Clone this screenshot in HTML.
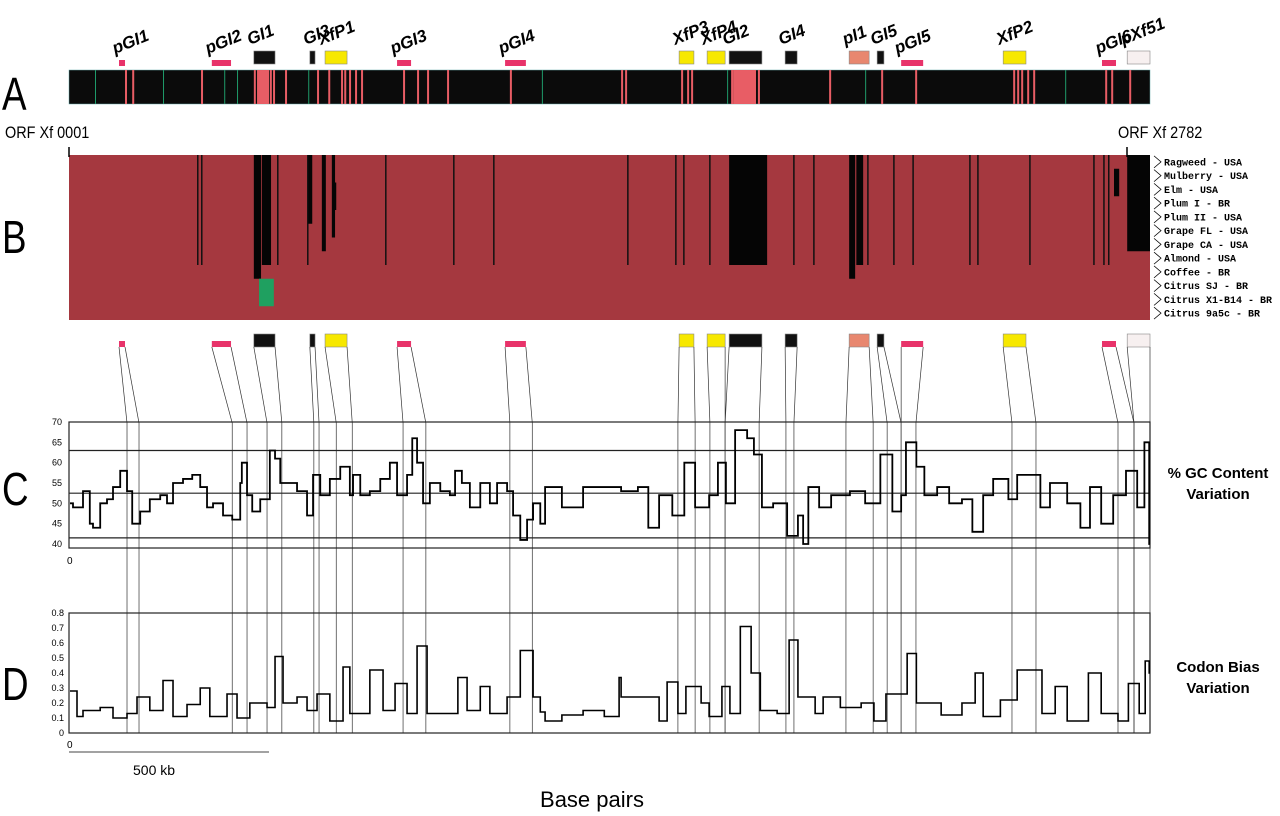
<!DOCTYPE html>
<html><head><meta charset="utf-8"><style>
html,body{margin:0;padding:0;background:#fff;}
svg{display:block;font-family:"Liberation Sans",sans-serif;}
</style></head><body>
<svg id="fig" width="1280" height="816" viewBox="0 0 1280 816" xmlns="http://www.w3.org/2000/svg">
<g id="gA"></g>
<g id="gB"></g>
<g id="gConn"></g>
<g id="gC"></g>
<g id="gD"></g>
<text x="2" y="110" font-size="46" font-weight="300" transform="scale(0.8,1)" style="transform-origin:2px 110px">A</text>
<text x="2" y="253" font-size="46" transform="scale(0.8,1)" style="transform-origin:2px 253px">B</text>
<text x="2" y="505" font-size="46" transform="scale(0.8,1)" style="transform-origin:2px 505px">C</text>
<text x="2" y="700" font-size="46" transform="scale(0.8,1)" style="transform-origin:2px 700px">D</text>
<text x="5" y="138" font-size="17" transform="scale(0.85,1)" style="transform-origin:5px 138px">ORF Xf 0001</text>
<line x1="69" y1="147" x2="69" y2="157" stroke="#000" stroke-width="1.5"/>
<text x="1118" y="138" font-size="17" transform="scale(0.85,1)" style="transform-origin:1118px 138px">ORF Xf 2782</text>
<line x1="1127" y1="147" x2="1127" y2="157" stroke="#000" stroke-width="1.5"/>
<text x="1218" y="478" font-size="15" font-weight="bold" text-anchor="middle">% GC Content</text>
<text x="1218" y="499" font-size="15" font-weight="bold" text-anchor="middle">Variation</text>
<text x="1218" y="672" font-size="15" font-weight="bold" text-anchor="middle">Codon Bias</text>
<text x="1218" y="693" font-size="15" font-weight="bold" text-anchor="middle">Variation</text>
<line x1="69" y1="752" x2="269" y2="752" stroke="#444" stroke-width="1"/>
<text x="133" y="775" font-size="14">500 kb</text>
<text x="592" y="807" font-size="22" text-anchor="middle">Base pairs</text>
</svg>
<script>
const NS="http://www.w3.org/2000/svg";
// genome length (kb)
const genomeKb=2702;
const islandNames=["pGI1","pGI2","GI1","GI3","XfP1","pGI3","pGI4","XfP3","XfP4","GI2","GI4","pI1","GI5","pGI5","XfP2","pGI6","pXf51"];
const islandKinds=["p","p","g","g","y","p","p","y","y","g","g","s","g","p","y","p","w"];
const islandStart=[125,357,462,602,640,820,1090,1525,1595,1650,1790,1950,2020,2080,2335,2582,2645];
const islandEnd=[140,405,515,615,695,855,1142,1562,1640,1732,1820,2000,2037,2135,2392,2617,2702];
const islandTargetA=[145,408,495,612,668,835,1102,1522,1602,1640,1792,1942,2045,2080,2357,2622,2662];
const islandTargetB=[175,445,532,625,708,892,1158,1565,1640,1725,1812,2010,2080,2117,2417,2662,2702];
const stripes=[140,158,330,490,462,470,480,487,495,502,510,540,620,648,680,688,700,715,730,835,870,895,945,1102,1380,1390,1530,1545,1555,1655,1665,1675,1690,1700,1712,1722,1900,2030,2115,2360,2370,2380,2395,2410,2590,2605,2650];
const greenLines=[65,235,388,420,598,1182,1645,1990,2490];
const strains=["Ragweed - USA","Mulberry - USA","Elm - USA","Plum I - BR","Plum II - USA","Grape FL - USA","Grape CA - USA","Almond - USA","Coffee - BR","Citrus SJ - BR","Citrus X1-B14 - BR","Citrus 9a5c - BR"];
const blockStart=[462,482,598,632,657,1650,1950,1968,2645,2612,660];
const blockEnd=[480,505,608,642,665,1745,1965,1985,2702,2625,668];
const blockRow0=[0,0,0,0,0,0,0,0,0,1,2];
const blockRow1=[9,8,5,7,6,8,9,8,7,3,4];
const thinLines=[320,520,330,595,790,960,1060,1395,1515,1535,1600,1810,1860,1995,2060,2250,2400,2585,2597,2108,2270,2560];
const gcTicks=[70,65,60,55,50,45,40];
const gcRef=[63,52.5,41.5];
const gcPos=[2.5,10,35,52,60,78,95,110,128,145,158,178,202,228,245,260,285,308,328,345,360,385,408,428,432,445,458,478,502,515,528,545,570,595,610,628,652,678,702,710,728,752,778,802,820,845,858,870,885,902,928,952,965,982,1002,1028,1052,1070,1095,1110,1128,1145,1160,1178,1190,1232,1285,1338,1380,1422,1448,1475,1508,1538,1565,1600,1622,1642,1665,1695,1712,1732,1760,1795,1822,1835,1848,1875,1905,1952,1990,2028,2058,2080,2092,2118,2138,2170,2200,2232,2258,2285,2310,2348,2370,2390,2428,2452,2495,2528,2552,2580,2610,2642,2670,2688,2700];
const gcVal=[50,49,53,45,44,50,51,54,58,53,45,48,51,52,50,55,56,57,54,49,50,47,46,55,60,52,48,51,63,61,55,55,53,47,57,52,56,59,52,57,52,53,56,60,52,57,66,60,50,55,53,52,58,55,49,55,50,55,53,47,41,46,50,45,54,49,54,54,53,54,44,52,47,60,49,52,60,50,68,66,62,49,50,42,47,40,54,49,52,53,50,62,48,52,65,59,52,54,50,51,43,52,56,51,57,57,49,55,50,44,54,45,52,58,49,65,40];
const cbTicks=[0.8,0.7,0.6,0.5,0.4,0.3,0.2,0.1,0];
const cbPos=[2.5,20,35,78,110,145,170,202,235,260,295,328,352,395,420,452,495,515,535,570,595,620,652,685,702,752,785,815,845,870,895,928,972,995,1028,1052,1095,1128,1160,1178,1190,1232,1285,1338,1375,1380,1422,1475,1495,1522,1542,1580,1600,1632,1652,1678,1705,1728,1770,1800,1822,1865,1885,1928,1980,2012,2042,2095,2118,2180,2232,2265,2285,2328,2370,2400,2432,2465,2495,2548,2580,2622,2648,2675,2690,2700];
const cbVal=[0.28,0.11,0.15,0.17,0.10,0.13,0.24,0.15,0.35,0.11,0.19,0.30,0.11,0.26,0.10,0.20,0.17,0.51,0.20,0.24,0.15,0.26,0.08,0.44,0.13,0.42,0.15,0.33,0.13,0.58,0.13,0.13,0.37,0.15,0.31,0.13,0.24,0.55,0.24,0.14,0.08,0.12,0.15,0.11,0.37,0.24,0.24,0.08,0.34,0.13,0.31,0.20,0.11,0.31,0.13,0.71,0.40,0.15,0.13,0.62,0.24,0.13,0.24,0.17,0.20,0.08,0.26,0.53,0.20,0.12,0.20,0.40,0.11,0.22,0.42,0.42,0.13,0.31,0.08,0.40,0.13,0.08,0.33,0.13,0.48,0.40];

const X0=69,X1=1150;
const xs=k=>X0+k/genomeKb*(X1-X0);
const gcY=v=>422+(70-v)*(544-422)/30;
const cbY=v=>733-v*(733-613)/0.8;
function mk(tag,attrs,parent){const e=document.createElementNS(NS,tag);for(const k in attrs)e.setAttribute(k,attrs[k]);parent.appendChild(e);return e;}
const colors={p:"#e8336a",g:"#111",y:"#f7e800",s:"#e8876f",w:"#f7f0f0"};
const gA=document.getElementById("gA"),gB=document.getElementById("gB"),gConn=document.getElementById("gConn"),gC=document.getElementById("gC"),gD=document.getElementById("gD");

let bar=mk("rect",{x:X0,y:70,width:X1-X0,height:34,fill:"#0b0b0b",stroke:"#6aa",["stroke-width"]:0.5},gA);


stripes.forEach(k=>{const r=mk("rect",{x:xs(k),y:70,width:2,height:34,fill:"#e85d65"},gA);

});
greenLines.forEach(k=>{const r=mk("rect",{x:xs(k),y:70,width:1,height:34,fill:"#1f9a6a"},gA);

});
[[462,515],[1650,1732]].forEach(([a,b])=>{const r=mk("rect",{x:xs(a)+4,y:70,width:xs(b)-xs(a)-10,height:34,fill:"#e85d65"},gA);

});
islandNames.forEach((n,i)=>{
  const k=islandKinds[i];const x=xs(islandStart[i]),w=Math.max(3,xs(islandEnd[i])-x);
  const top=k==="p"?60:51,h=k==="p"?6:13;
  const r=mk("rect",{x:x,y:top,width:w,height:h,fill:colors[k],stroke:k==="p"?"none":"#888",["stroke-width"]:0.6},gA);
  
  
  const t=mk("text",{x:x-4,y:top-6,["font-size"]:17,["font-weight"]:"bold",["font-style"]:"italic",transform:`rotate(-22 ${x-4} ${top-6})`},gA);
  t.textContent=n;
  
  
  const r2=mk("rect",{x:x,y:k==="p"?341:334,width:w,height:k==="p"?6:13,fill:colors[k],stroke:k==="p"?"none":"#888",["stroke-width"]:0.6},gConn);
  
  
  [[x,islandTargetA[i]],[x+w,islandTargetB[i]]].forEach(([sx,tk])=>{
    const tx=xs(tk);
    const p=mk("path",{d:`M${sx} 347 L${tx} 423 L${tx} 733`,stroke:"#333",["stroke-width"]:0.7,fill:"none"},gConn);
    
    
  });
});

const rowH=(320-155)/strains.length;
let hm=mk("rect",{x:X0,y:155,width:X1-X0,height:165,fill:"#a5383f"},gB);


thinLines.forEach(k=>{const r=mk("rect",{x:xs(k),y:155,width:1.5,height:rowH*8,fill:"#111"},gB);

});
blockStart.forEach((s,i)=>{const r=mk("rect",{x:xs(s),y:155+blockRow0[i]*rowH,width:xs(blockEnd[i])-xs(s),height:(blockRow1[i]-blockRow0[i])*rowH,fill:"#050505"},gB);

});
let gr=mk("rect",{x:xs(475),y:155+9*rowH,width:xs(512)-xs(475),height:2*rowH,fill:"#1fa060"},gB);


strains.forEach((s,i)=>{
  const cy=155+rowH*(i+0.5);
  const c=mk("path",{d:`M1154 ${cy-6} L1161 ${cy} L1154 ${cy+6}`,fill:"none",stroke:"#000",["stroke-width"]:0.8},gB);
  
  
  const t=mk("text",{x:1164,y:cy+3.5,["font-size"]:10,["font-family"]:"Liberation Mono, monospace",["font-weight"]:"bold"},gB);
  t.textContent=s;
  
  });

function frame(g,top,bot,name){const r=mk("rect",{x:X0,y:top,width:X1-X0,height:bot-top,fill:"none",stroke:"#222",["stroke-width"]:1.2},g);

}
frame(gC,422,548,'gc-plot-frame');
gcRef.forEach(v=>{const l=mk("line",{x1:X0,x2:X1,y1:gcY(v),y2:gcY(v),stroke:"#222",["stroke-width"]:1.2},gC);

});
gcTicks.forEach(v=>{const t=mk("text",{x:62,y:gcY(v)+3,["font-size"]:9,["text-anchor"]:"end"},gC);t.textContent=v;

});
let z1=mk("text",{x:67,y:564,["font-size"]:10},gC);z1.textContent="0";


function stepPath(pos,val,yf){let d="";pos.forEach((p,i)=>{const x=xs(p),y=yf(val[i]);if(i===0)d+=`M${x} ${y}`;else d+=` H${x} V${y}`;});d+=` H${X1}`;return d;}
let gcl=mk("path",{d:stepPath(gcPos,gcVal,gcY),fill:"none",stroke:"#000",["stroke-width"]:1.8},gC);



frame(gD,613,733,'codon-plot-frame');
cbTicks.forEach(v=>{const t=mk("text",{x:64,y:cbY(v)+3,["font-size"]:9,["text-anchor"]:"end"},gD);t.textContent=v;

});
let z2=mk("text",{x:67,y:748,["font-size"]:10},gD);z2.textContent="0";


let cbl=mk("path",{d:stepPath(cbPos,cbVal,cbY),fill:"none",stroke:"#000",["stroke-width"]:1.6},gD);


</script>
</body></html>
